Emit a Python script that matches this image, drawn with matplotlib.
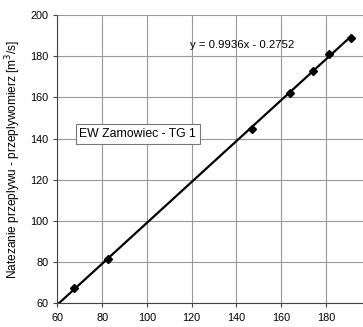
import matplotlib
matplotlib.use("Agg")
import matplotlib.pyplot as plt
import numpy as np

plt.rcParams['font.family'] = ['Liberation Sans', 'DejaVu Sans']

x_meas = [67.5, 82.5, 146.9, 163.9, 174.2, 181.3, 191.1]
y_meas = [67.4, 81.4, 144.6, 162.1, 172.8, 181.0, 188.9]
slope = 0.9936
intercept = -0.2752
x_ticks = [60, 80, 100, 120, 140, 160, 180]
y_ticks = [60, 80, 100, 120, 140, 160, 180, 200]

fig = plt.figure(figsize=(3.63, 3.27), dpi=100)
ax = fig.add_axes([0.158, 0.0725, 0.842, 0.8815])

ax.set_xlim(60, 196.5)
ax.set_ylim(60, 200)
ax.set_xticks(x_ticks)
ax.set_yticks(y_ticks)
ax.grid(True, color='#999999', linewidth=0.8)
ax.set_axisbelow(True)

xl = np.array([60.6, max(x_meas)])
ax.plot(xl, slope * xl + intercept, color='black', linewidth=1.6, zorder=3)
ax.plot(x_meas, y_meas, linestyle='none', marker='D', markersize=4,
        color='black', zorder=4)

for s in ['top', 'right']:
    ax.spines[s].set_visible(False)
ax.spines['left'].set_color('#444444')
ax.spines['bottom'].set_color('#444444')
ax.tick_params(axis='both', labelsize=7.8, length=3, width=0.8, color='#444444')
ax.tick_params(axis='x', pad=4)

ax.set_ylabel('Natezanie przeplywu - przeplywomierz [m$^3$/s]', fontsize=8.6, labelpad=5)

ax.text(119.2, 185.4, 'y = 0.9936x - 0.2752', fontsize=8.2, va='center', ha='left')
ax.text(69.8, 142.2, 'EW Zamowiec - TG 1', fontsize=8.8, va='center', ha='left',
        bbox=dict(boxstyle='square,pad=0.3', facecolor='white', edgecolor='#777777', linewidth=0.8))

fig.savefig('out.png', dpi=100)
